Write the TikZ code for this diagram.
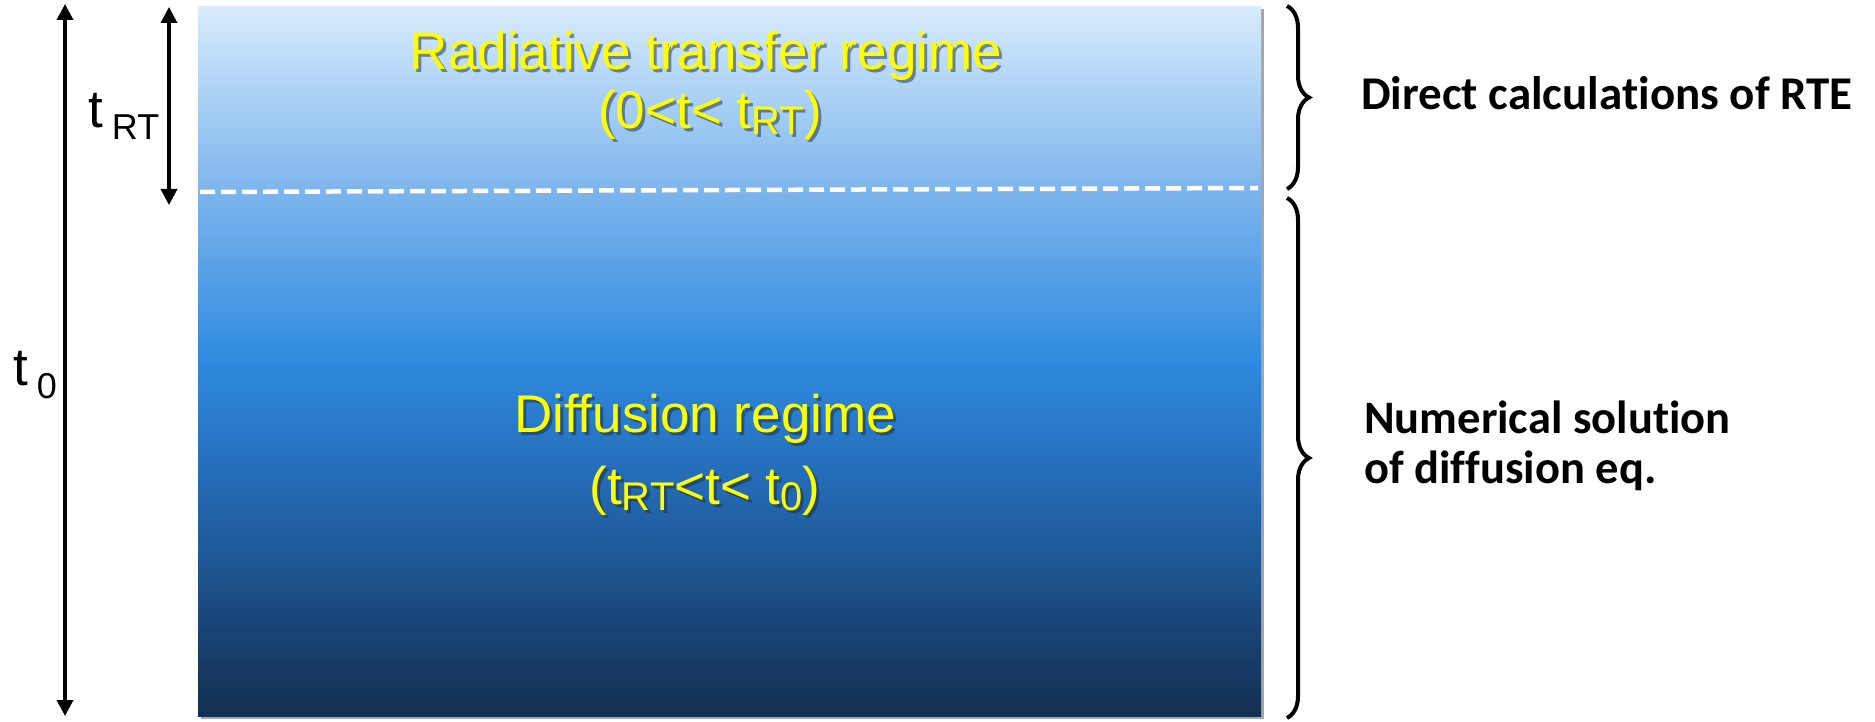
\documentclass[tikz,border=0pt]{standalone}
\usepackage{fontspec}
\setmainfont{Liberation Sans}
\newfontfamily\calib[Ligatures=NoCommon]{Carlito}
\usetikzlibrary{arrows.meta,decorations.pathreplacing,shadows}
\definecolor{cA}{HTML}{12304F}
\definecolor{cB}{HTML}{183F6E}
\definecolor{cC}{HTML}{1F5998}
\definecolor{cD}{HTML}{2670BD}
\definecolor{cE}{HTML}{2E8BE0}
\definecolor{cF}{HTML}{7DB5EC}
\definecolor{cG}{HTML}{D8ECFC}
\definecolor{ylw}{HTML}{FFFF00}
\definecolor{shadowcol}{HTML}{1A2A40}
\pgfdeclareverticalshading{regime}{100bp}{color(0bp)=(cA); color(25bp)=(cA); color(30bp)=(cB); color(36.5bp)=(cC); color(43bp)=(cD); color(50.1bp)=(cE); color(62.1bp)=(cF); color(75bp)=(cG); color(100bp)=(cG)}
\newcommand\subs[3][8pt]{\raisebox{-#1}{\fontsize{#2}{#2}\selectfont #3}}
\tikzset{
  measure/.style={line width=3.5pt, >={Triangle[width=16pt,length=16pt]}, <->},
  ytext/.style={text=ylw, font=\fontsize{53}{53}\selectfont, inner sep=0pt, anchor=base},
  shtext/.style={ytext, text=shadowcol, opacity=0.5},
  blabel/.style={text=black, font=\fontsize{53}{53}\selectfont, inner sep=0pt, anchor=base west},
  rtext/.style={text=black, font=\calib\bfseries\fontsize{47}{50}\selectfont, inner sep=0pt, anchor=base west},
  bracestyle/.style={line width=4pt, decorate, decoration={brace, amplitude=22pt, aspect=0.5}}
}
\begin{document}
\begin{tikzpicture}[x=1pt,y=-1pt]
\useasboundingbox (0,0) rectangle (1875,722);
% box
\node[anchor=north west, inner sep=0pt, minimum width=1063pt, minimum height=710pt, shading=regime,
      drop shadow={shadow xshift=3pt, shadow yshift=-3pt, opacity=0.35, fill=black}] (box) at (198,6) {};
% dashed separator
\coordinate (dl) at (200,192);
\coordinate (dr) at (1258,188);
\draw[white, line width=4.5pt, dash pattern=on 15pt off 6pt] (dl) -- (dr);
% arrows
\coordinate (a0t) at (65,4);
\coordinate (a0b) at (65,716);
\coordinate (a1t) at (169,7);
\coordinate (a1b) at (169,205);
\draw[measure] (a0t) -- (a0b);
\draw[measure] (a1t) -- (a1b);
% left labels
\node[blabel] (trt) at (88,128) {t\hspace{9pt}\subs[12pt]{36}{RT}};
\node[blabel] (t0) at (13,385) {t\hspace{9pt}\subs[13pt]{36}{0}};
% box texts
\node[shtext] (r1s) at (709,73) {Radiative transfer regime};
\node[ytext] (r1) at (706,70) {Radiative transfer regime};
\node[shtext] (r2s) at (713,132) {(0<t< t\subs[6pt]{40}{RT})};
\node[ytext] (r2) at (710,129) {(0<t< t\subs[6pt]{40}{RT})};
\node[shtext] (d1s) at (708,435) {Diffusion regime};
\node[ytext] (d1) at (705,432) {Diffusion regime};
\node[shtext] (d2s) at (708,507) {(t\subs[6pt]{40}{RT}<t< t\subs[6pt]{40}{0})};
\node[ytext] (d2) at (705,504) {(t\subs[6pt]{40}{RT}<t< t\subs[6pt]{40}{0})};
% braces
\coordinate (b1t) at (1287,6);
\coordinate (b1b) at (1287,189);
\coordinate (b2t) at (1287,198);
\coordinate (b2b) at (1287,718);
\draw[bracestyle] (b1t) -- (b1b);
\draw[bracestyle] (b2t) -- (b2b);
% right texts
\node[rtext] (rte) at (1361,110) {Direct calculations of RTE};
\node[rtext, font=\calib\bfseries\fontsize{46.5}{50}\selectfont] (num1) at (1364,433) {Numerical solution};
\node[rtext, font=\calib\bfseries\fontsize{46.5}{50}\selectfont] (num2) at (1364,483) {of diffusion eq.};
\end{tikzpicture}
\end{document}
